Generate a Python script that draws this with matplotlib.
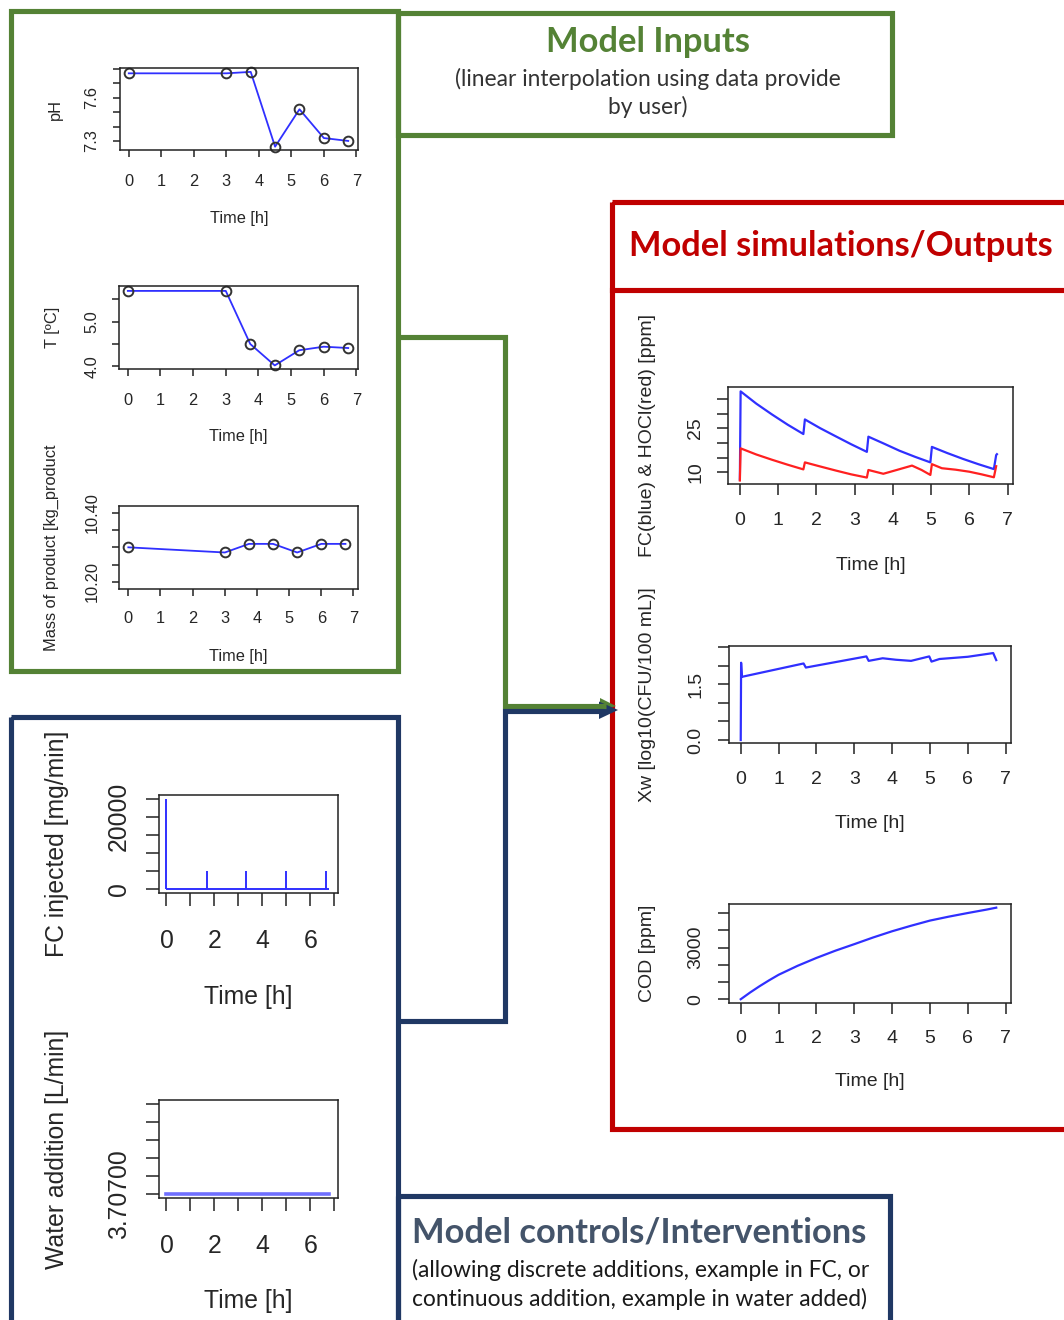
import matplotlib
matplotlib.use("Agg")
import matplotlib.pyplot as plt
from matplotlib.patches import Rectangle, Polygon

W, H = 1064, 1320

# ---------------- user inputs (linear interpolation between points) ----------------
input_time = [0, 3, 3.75, 4.5, 5.25, 6, 6.75]
ph = [7.77, 7.77, 7.78, 7.26, 7.52, 7.32, 7.30]
temp_c = [5.69, 5.69, 4.50, 4.02, 4.36, 4.44, 4.41]
mass_kg = [10.300, 10.285, 10.310, 10.310, 10.285, 10.310, 10.310]

# ---------------- controls ----------------
dose_time = [0, 1.67, 3.33, 5.0, 6.67]
dose_rate = [25000, 5000, 5000, 5000, 5000]
control_end = 6.78
water_time = [0, 6.78]
water_rate = [3.707, 3.707]

# ---------------- simulated outputs ----------------
fc_time = [0, 0.02, 0.43, 0.84, 1.25, 1.66, 1.70, 2.10, 2.51, 2.91, 3.32, 3.36,
           3.77, 4.17, 4.58, 4.98, 5.02, 5.42, 5.83, 6.23, 6.64, 6.70, 6.72]
fc_ppm = [7.5, 37.7, 33.5, 29.8, 26.3, 23.1, 28.1, 25.1, 22.3, 19.6, 17.0, 22.2,
          19.8, 17.4, 15.3, 13.4, 18.7, 16.6, 14.6, 12.8, 11.1, 15.9, 16.2]

hocl_time = [0, 0.02, 0.43, 0.84, 1.25, 1.66, 1.70, 2.10, 2.51, 2.91, 3.32, 3.36,
             3.75, 4.10, 4.50, 4.75, 4.98, 5.02, 5.28, 5.64, 6.00, 6.32, 6.64, 6.70]
hocl_ppm = [7.2, 18.2, 16.1, 14.3, 12.6, 11.0, 13.4, 12.0, 10.6, 9.3, 8.2, 10.8,
            9.5, 10.8, 12.3, 10.8, 9.1, 12.8, 11.4, 10.9, 10.2, 9.3, 8.3, 12.1]

xw_time = [0, 0.01, 0.03, 1.66, 1.72, 3.32, 3.38, 3.75, 4.10, 4.50, 4.98, 5.04,
           5.25, 6.00, 6.67, 6.75]
xw_log = [0.0, 2.08, 1.70, 2.06, 1.95, 2.25, 2.13, 2.20, 2.16, 2.13, 2.25, 2.11,
          2.18, 2.24, 2.34, 2.15]

cod_time = [0, 0.25, 0.5, 0.75, 1, 1.5, 2, 2.5, 3, 3.5, 4, 4.5, 5, 5.5, 6, 6.5,
            6.75]
cod_ppm = [0, 395, 760, 1100, 1420, 1940, 2400, 2820, 3200, 3590, 3950, 4270,
           4570, 4800, 5010, 5210, 5320]

# ---------------- tick values / labels ----------------
hour_ticks = [0, 1, 2, 3, 4, 5, 6, 7]
hour_labels = ["0", "1", "2", "3", "4", "5", "6", "7"]
hour_labels_even = ["0", "", "2", "", "4", "", "6", ""]
ph_ticks = [7.3, 7.4, 7.5, 7.6, 7.7, 7.8]
ph_labels = ["7.3", "", "", "7.6", "", ""]
temp_ticks = [4.0, 4.5, 5.0, 5.5]
temp_labels = ["4.0", "", "5.0", ""]
mass_ticks = [10.20, 10.25, 10.30, 10.35, 10.40]
mass_labels = ["10.20", "", "", "", "10.40"]
dose_ticks = [0, 5000, 10000, 15000, 20000, 25000]
dose_labels = ["0", "", "", "", "20000", ""]
water_ticks = [3.70700, 3.70702, 3.70704, 3.70706, 3.70708, 3.70710]
water_labels = ["3.70700", "", "", "", "", ""]
fc_ticks = [10, 15, 20, 25, 30, 35]
fc_labels = ["10", "", "", "25", "", ""]
xw_ticks = [0, 0.5, 1.0, 1.5, 2.0, 2.5]
xw_labels = ["0.0", "", "", "1.5", "", ""]
cod_ticks = [0, 1000, 2000, 3000, 4000, 5000]
cod_labels = ["0", "", "", "3000", "", ""]

GREEN = "#548235"
NAVY = "#203864"
RED = "#C00000"
BLUE = "#3030ff"
TXT = "#262626"
PLOT_FONT = "Liberation Sans"
TITLE_FONT = "Lato"

fig = plt.figure(figsize=(W / 100, H / 100), dpi=100)
fig.patch.set_facecolor("white")

# Canvas in pixel coordinates for the frames, connectors and headings
bg = fig.add_axes([0, 0, 1, 1])
bg.set_xlim(0, W)
bg.set_ylim(H, 0)
bg.axis("off")


def frame(x0, y0, x1, y1, color):
    bg.add_patch(Rectangle((x0, y0), x1 - x0, y1 - y0, fill=False, ec=color,
                           lw=3.7, joinstyle="miter"))


frame(11, 11, 397.5, 670.5, GREEN)
frame(397.5, 12.5, 892, 135, GREEN)
frame(11, 717, 397.5, 1400, NAVY)
frame(397.5, 1196, 890, 1400, NAVY)
frame(612, 202, 1200, 1129, RED)
bg.plot([612, 1064], [290, 290], color=RED, lw=3.7)

# connectors into the simulation block
bg.plot([397.5, 505, 505, 606], [337, 337, 706, 706], color=GREEN, lw=3.7,
        solid_joinstyle="miter", solid_capstyle="butt")
bg.add_patch(Polygon([(600, 698), (616, 706), (600, 712)], closed=True,
                     fc=GREEN, ec="none"))
bg.plot([397.5, 505, 505, 604], [1021, 1021, 710.5, 710.5], color=NAVY, lw=3.7,
        solid_joinstyle="miter", solid_capstyle="butt")
bg.add_patch(Polygon([(599, 701.5), (618, 710), (599, 719)], closed=True,
                     fc=NAVY, ec="none"))


def fitted(x, y, s, width_px, ha="center", size=None, **kw):
    t = bg.text(x, y, s, fontsize=20 if size is None else size, ha=ha,
                va="center", **kw)
    if size is None:
        r = fig.canvas.get_renderer()
        w = t.get_window_extent(renderer=r).width
        t.set_fontsize(20 * width_px / w)
    return t


t1 = fitted(648, 42, "Model Inputs", 204, color=GREEN, family=TITLE_FONT,
            weight="bold")
s1 = fitted(648, 79, "(linear interpolation using data provide", 387,
            color="#333333", family=TITLE_FONT)
fitted(648, 107, "by user)", 0, size=s1.get_fontsize(), color="#333333",
       family=TITLE_FONT)
fitted(629, 246, "Model simulations/Outputs", 424, ha="left", color=RED,
       family=TITLE_FONT, weight="bold")
fitted(412, 1232, "Model controls/Interventions", 454, ha="left",
       color="#44546A", family=TITLE_FONT, weight="bold")
s2 = fitted(412, 1270, "(allowing discrete additions, example in FC, or", 456,
            ha="left", color="#1a1a1a", family=TITLE_FONT)
fitted(412, 1299, "continuous addition, example in water added)", 0, ha="left",
       size=s2.get_fontsize(), color="#1a1a1a", family=TITLE_FONT)


def panel(box, xlim, ylim, xticks, xlabels, yticks, ylabels, xlabel, ylabel,
          fs, ticklen, xtick_y, ytick_x, xlabel_y, ylabel_x, lw=1.1):
    l, t, r, b = box
    ax = fig.add_axes([l / W, 1 - b / H, (r - l) / W, (b - t) / H])
    ax.set_xlim(xlim)
    ax.set_ylim(ylim)
    fs_px = fs * 100 / 72
    ax.set_xticks(xticks)
    ax.set_xticklabels(xlabels, family=PLOT_FONT, fontsize=fs, color=TXT)
    ax.set_yticks(yticks)
    ax.set_yticklabels(ylabels, family=PLOT_FONT, fontsize=fs, color=TXT,
                       rotation=90, va="center")
    xpad = (xtick_y - b - ticklen - 0.36 * fs_px) * 0.72
    ypad = (l - ticklen - ytick_x - 0.57 * fs_px) * 0.72
    ax.tick_params(axis="x", length=ticklen * 0.72, width=lw, pad=xpad,
                   color="#222222")
    ax.tick_params(axis="y", length=ticklen * 0.72, width=lw, pad=ypad,
                   color="#222222")
    for sp in ax.spines.values():
        sp.set_linewidth(lw)
        sp.set_color("#222222")
    ax.set_xlabel(xlabel, family=PLOT_FONT, fontsize=fs, color=TXT)
    ax.xaxis.set_label_coords(0.5, (b - xlabel_y) / (b - t))
    ax.xaxis.label.set_va("center")
    ax.set_ylabel(ylabel, family=PLOT_FONT, fontsize=fs, color=TXT)
    ax.yaxis.set_label_coords((ylabel_x - l) / (r - l), 0.5)
    ax.yaxis.label.set_va("center")
    return ax


# ---- input panels ----
IN_FS = 11.8
pt_style = dict(color=BLUE, lw=1.3, marker="o", ms=7, mfc="none",
                mec="#333333", mew=1.4, clip_on=False)

ax = panel((120, 68, 358, 150), (-0.27, 7.05), (7.237, 7.807),
           hour_ticks, hour_labels, ph_ticks, ph_labels, "Time [h]", "pH",
           IN_FS, 7, 180, 90, 218, 55)
ax.plot(input_time, ph, **pt_style)

ax = panel((119, 286, 358, 369), (-0.27, 7.05), (3.94, 5.80),
           hour_ticks, hour_labels, temp_ticks, temp_labels, "Time [h]",
           "T [ºC]", IN_FS, 7, 399, 90, 437, 52)
ax.plot(input_time, temp_c, **pt_style)

ax = panel((119, 506, 358, 589), (-0.29, 7.14), (10.179, 10.420),
           hour_ticks, hour_labels, mass_ticks, mass_labels, "Time [h]",
           "Mass of product [kg_product", IN_FS, 7, 617, 90, 656, 51)
ax.plot(input_time, mass_kg, **pt_style)

# ---- control panels ----
CT_FS = 17.8
ax = panel((159, 795, 338, 893), (-0.31, 7.15), (-1000, 26000),
           hour_ticks, hour_labels_even, dose_ticks, dose_labels, "Time [h]",
           "FC injected [mg/min]", CT_FS, 13, 938, 117, 997, 57)
ax.hlines(0, dose_time[0], control_end, color=BLUE, lw=1.4)
ax.vlines(dose_time, 0, dose_rate, color=BLUE, lw=1.4)

ax = panel((159, 1100, 338, 1198), (-0.31, 7.15), (3.706996, 3.707104),
           hour_ticks, hour_labels_even, water_ticks, water_labels, "Time [h]",
           "Water addition [L/min]", CT_FS, 13, 1243, 117, 1301, 57)
ax.plot(water_time, water_rate, color="#6f6fff", lw=2.6)

# ---- output panels ----
OUT_FS = 14
ax = panel((728, 387, 1013, 484), (-0.31, 7.14), (6.0, 39.2),
           hour_ticks, hour_labels, fc_ticks, fc_labels, "Time [h]",
           "FC(blue) & HOCl(red) [ppm]", OUT_FS, 11, 519, 693, 565, 648)
ax.plot(fc_time, fc_ppm, color=BLUE, lw=1.6)
ax.plot(hocl_time, hocl_ppm, color="#ff2020", lw=1.6)

ax = panel((729, 646, 1011, 743), (-0.31, 7.14), (-0.08, 2.53),
           hour_ticks, hour_labels, xw_ticks, xw_labels, "Time [h]",
           "Xw [log10(CFU/100 mL)]", OUT_FS, 11, 778, 693, 823, 648)
ax.plot(xw_time, xw_log, color=BLUE, lw=1.6)

ax = panel((729, 904, 1011, 1003), (-0.31, 7.14), (-219, 5533),
           hour_ticks, hour_labels, cod_ticks, cod_labels, "Time [h]",
           "COD [ppm]", OUT_FS, 11, 1037, 693, 1082, 648)
ax.plot(cod_time, cod_ppm, color=BLUE, lw=1.6)

fig.savefig("out.png", dpi=100, facecolor="white")
